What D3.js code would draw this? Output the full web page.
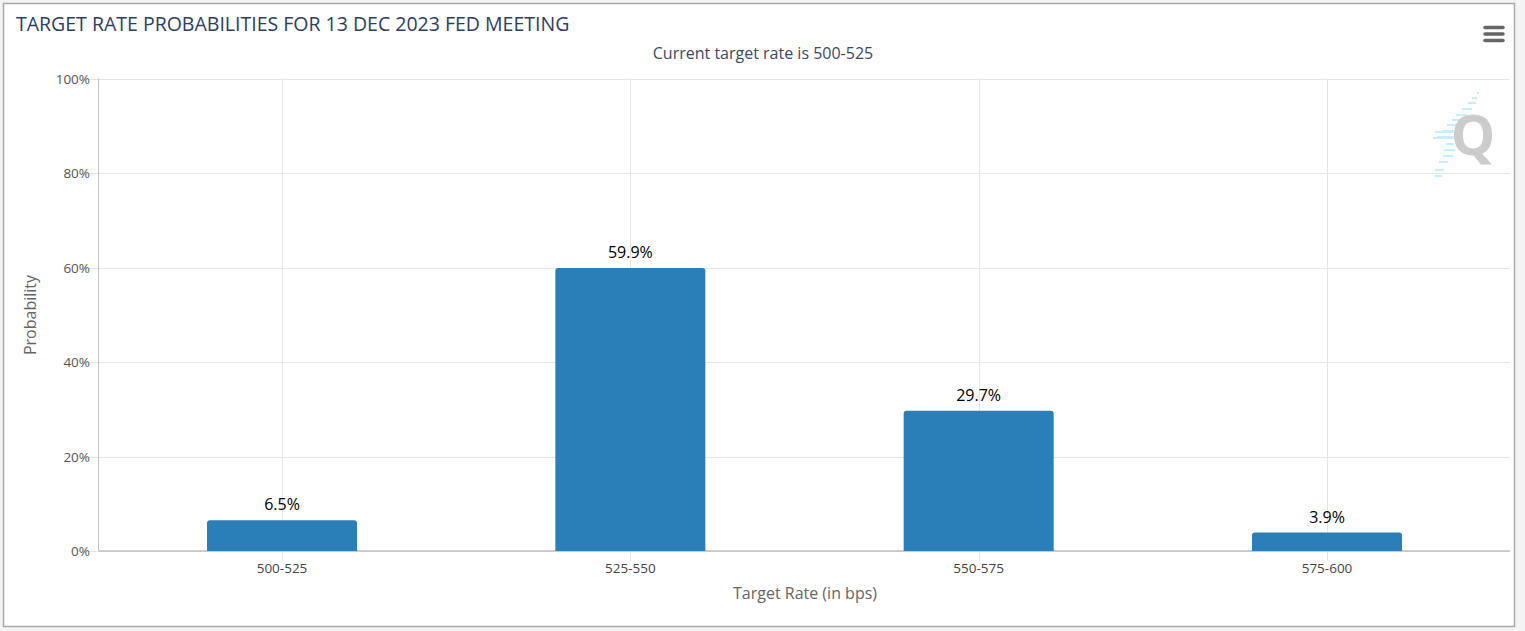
<!DOCTYPE html>
<html>
<head>
<meta charset="utf-8">
<script src="https://cdn.jsdelivr.net/npm/d3@7"></script>
<style>
html, body { margin: 0; padding: 0; background: #f4f4f4; overflow: hidden; }
text { font-family: "Open Sans", "DejaVu Sans", sans-serif; }
</style>
</head>
<body>
<script>
var categories = ["500-525", "525-550", "550-575", "575-600"];
var probabilities = [6.5, 59.9, 29.7, 3.9];
var yTicks = [0, 20, 40, 60, 80, 100];

var width = 1525, height = 631;
var left = 98.5, right = 1510, top_ = 78.5, bottom = 551;

var svg = d3.select("body").append("svg")
	.attr("width", width)
	.attr("height", height)
	.style("display", "block");

// chart frame
svg.append("rect")
	.attr("x", 3.5).attr("y", 3.5)
	.attr("width", 1511).attr("height", 623)
	.attr("fill", "#ffffff")
	.attr("stroke", "#a9a9a9")
	.attr("stroke-width", 1.5);

var x = d3.scalePoint().domain(categories).range([282, 1327]);
var y = d3.scaleLinear().domain([0, 100]).range([bottom, top_]);
var barWidth = 150;

// grid
svg.append("g").selectAll("line")
	.data(yTicks)
	.enter()
	.append("line")
	.attr("x1", left - 10)
	.attr("x2", right)
	.attr("y1", function(d){ return Math.round(y(d)) + 0.5; })
	.attr("y2", function(d){ return Math.round(y(d)) + 0.5; })
	.attr("stroke", "#e6e6e6");

svg.append("g").selectAll("line")
	.data(categories)
	.enter()
	.append("line")
	.attr("x1", function(d){ return Math.round(x(d)) + 0.5; })
	.attr("x2", function(d){ return Math.round(x(d)) + 0.5; })
	.attr("y1", top_)
	.attr("y2", bottom + 10)
	.attr("stroke", "#e6e6e6");

// axis lines
svg.append("line")
	.attr("x1", left).attr("x2", left)
	.attr("y1", top_).attr("y2", bottom)
	.attr("stroke", "#c0c0c0");
svg.append("line")
	.attr("x1", left).attr("x2", right)
	.attr("y1", bottom).attr("y2", bottom)
	.attr("stroke", "#c0c0c0")
	.attr("stroke-width", 1.5);

// bars, rounded on top only
svg.append("g").selectAll("path")
	.data(categories)
	.enter()
	.append("path")
	.attr("fill", "#2a7fb8")
	.attr("d", function(d, i){
		var x0 = x(d) - barWidth / 2, x1 = x(d) + barWidth / 2;
		var yTop = y(probabilities[i]), r = 3;
		return "M" + x0 + "," + bottom + "V" + (yTop + r) + "Q" + x0 + "," + yTop + " " + (x0 + r) + "," + yTop
			+ "H" + (x1 - r) + "Q" + x1 + "," + yTop + " " + x1 + "," + (yTop + r) + "V" + bottom + "Z";
	});

// data labels
svg.append("g").selectAll("text")
	.data(categories)
	.enter()
	.append("text")
	.attr("x", function(d){ return x(d); })
	.attr("y", function(d, i){ return y(probabilities[i]) - 10; })
	.attr("text-anchor", "middle")
	.attr("font-size", 16)
	.attr("fill", "#000000")
	.text(function(d, i){ return probabilities[i] + "%"; });

// tick labels
svg.append("g").selectAll("text")
	.data(yTicks)
	.enter()
	.append("text")
	.attr("x", 90)
	.attr("y", function(d){ return y(d) + 5; })
	.attr("text-anchor", "end")
	.attr("font-size", 13.5)
	.attr("fill", "#555555")
	.text(function(d){ return d + "%"; });

svg.append("g").selectAll("text")
	.data(categories)
	.enter()
	.append("text")
	.attr("x", function(d){ return x(d); })
	.attr("y", 573)
	.attr("text-anchor", "middle")
	.attr("font-size", 13.5)
	.attr("fill", "#444444")
	.text(function(d){ return d; });

// titles
svg.append("text")
	.attr("x", 16).attr("y", 31)
	.attr("font-size", 19.5)
	.attr("fill", "#2c3e66")
	.text("TARGET RATE PROBABILITIES FOR 13 DEC 2023 FED MEETING");

svg.append("text")
	.attr("x", 763).attr("y", 59)
	.attr("text-anchor", "middle")
	.attr("font-size", 16)
	.attr("fill", "#3d4a66")
	.text("Current target rate is 500-525");

svg.append("text")
	.attr("x", 805).attr("y", 599)
	.attr("text-anchor", "middle")
	.attr("font-size", 16)
	.attr("fill", "#666666")
	.text("Target Rate (in bps)");

svg.append("text")
	.attr("transform", "translate(36,315) rotate(-90)")
	.attr("text-anchor", "middle")
	.attr("font-size", 16)
	.attr("fill", "#666666")
	.text("Probability");

// menu icon
svg.append("g").selectAll("line")
	.data([0, 1, 2])
	.enter()
	.append("line")
	.attr("x1", 1485).attr("x2", 1503)
	.attr("y1", function(d){ return 27.5 + d * 6.5; })
	.attr("y2", function(d){ return 27.5 + d * 6.5; })
	.attr("stroke", "#666666")
	.attr("stroke-width", 3.5)
	.attr("stroke-linecap", "round");

// watermark
var stripes = [[1479,1477,93],[1477,1472,98],[1476,1468,103],[1472,1462,109],[1467,1456,115],[1462,1452,120],[1458,1447,125],[1456,1445,131],[1450,1443,131],[1456,1437,137],[1453,1435,132],[1455,1433,138],[1454,1446,144],[1455,1444,150],[1453,1443,156],[1448,1439,162],[1444,1435,170],[1442,1435,176]];
svg.append("g").selectAll("line")
	.data(stripes)
	.enter()
	.append("line")
	.attr("x1", function(d){ return d[1]; })
	.attr("x2", function(d){ return d[0]; })
	.attr("y1", function(d){ return d[2]; })
	.attr("y2", function(d){ return d[2]; })
	.attr("stroke", "#c6eefc")
	.attr("stroke-width", 2);

svg.append("text")
	.attr("x", 1473).attr("y", 155)
	.attr("text-anchor", "middle")
	.attr("font-size", 56)
	.attr("font-weight", "bold")
	.attr("fill", "#cccccc")
	.text("Q");
</script>
</body>
</html>
